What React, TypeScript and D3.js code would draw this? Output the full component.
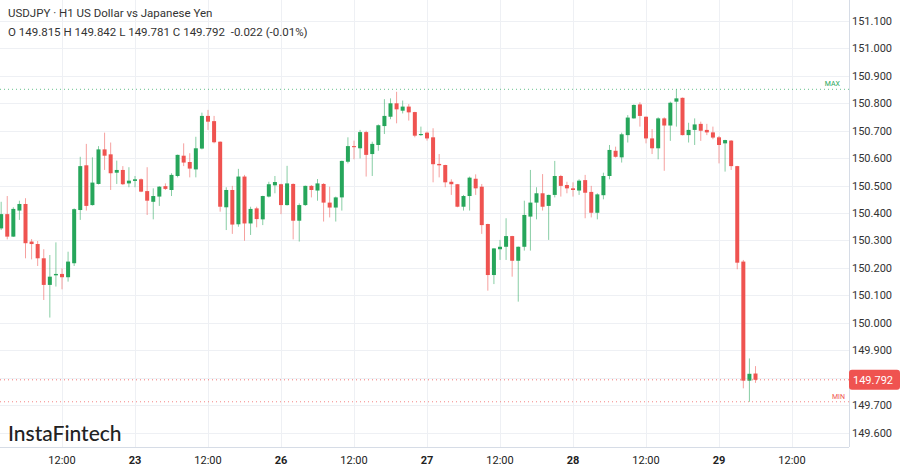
import React from "react";
import * as d3 from "d3";

// Bar index: 0 = Feb 22 12:00 (H1 bars), first visible bar at -10
const startIndex = -10;
const opens = [150.344,150.396,150.314,150.409,150.433,150.296,150.287,150.235,150.138,150.173,
150.178,150.166,150.217,150.411,150.574,150.429,150.506,150.632,150.614,150.547,
150.557,150.508,150.517,150.523,150.480,150.441,150.460,150.498,150.484,150.535,
150.609,150.586,150.559,150.635,150.754,150.735,150.660,150.421,150.484,150.359,
150.533,150.362,150.417,150.377,150.460,150.501,150.505,150.429,150.506,150.372,
150.429,150.499,150.482,150.506,150.438,150.420,150.457,150.587,150.644,150.636,
150.695,150.615,150.648,150.717,150.751,150.800,150.773,150.788,150.768,150.684,
150.693,150.676,150.579,150.575,150.514,150.505,150.423,150.462,150.525,150.496,
150.360,150.174,150.268,150.277,150.316,150.226,150.277,150.387,150.438,150.472,
150.426,150.466,150.535,150.502,150.490,150.482,150.520,150.477,150.401,150.465,
150.535,150.627,150.603,150.684,150.745,150.796,150.751,150.672,150.636,150.745,
150.719,150.806,150.820,150.684,150.703,150.725,150.703,150.694,150.676,150.654,
150.664,150.571,150.223,149.789,149.815];
const highs = [150.441,150.462,150.421,150.445,150.454,150.305,150.298,150.268,150.247,150.293,
150.198,150.259,150.417,150.605,150.652,150.603,150.644,150.693,150.657,150.591,
150.571,150.567,150.535,150.526,150.567,150.490,150.498,150.508,150.545,150.613,
150.654,150.618,150.678,150.766,150.776,150.754,150.661,150.494,150.499,150.561,
150.539,150.423,150.423,150.463,150.514,150.535,150.507,150.572,150.508,150.435,
150.500,150.502,150.524,150.509,150.496,150.460,150.591,150.676,150.664,150.703,
150.700,150.660,150.723,150.815,150.818,150.842,150.810,150.797,150.769,150.715,
150.697,150.709,150.615,150.576,150.523,150.506,150.466,150.533,150.541,150.506,
150.361,150.272,150.302,150.381,150.317,150.278,150.445,150.557,150.494,150.542,
150.467,150.590,150.539,150.514,150.512,150.523,150.539,150.499,150.472,150.547,
150.648,150.642,150.693,150.757,150.796,150.804,150.752,150.706,150.749,150.749,
150.806,150.851,150.821,150.729,150.745,150.733,150.725,150.715,150.681,150.667,
150.666,150.572,150.229,149.870,149.842];
const lows = [150.338,150.304,150.313,150.375,150.235,150.231,150.207,150.083,150.019,150.132,
150.122,150.150,150.207,150.375,150.409,150.427,150.504,150.557,150.484,150.506,
150.502,150.494,150.494,150.476,150.393,150.377,150.426,150.484,150.462,150.530,
150.571,150.530,150.530,150.632,150.703,150.654,150.405,150.338,150.324,150.350,
150.299,150.320,150.348,150.356,150.457,150.472,150.396,150.427,150.304,150.296,
150.426,150.457,150.445,150.369,150.384,150.369,150.409,150.581,150.596,150.599,
150.533,150.535,150.627,150.688,150.742,150.727,150.763,150.737,150.676,150.681,
150.664,150.512,150.530,150.494,150.466,150.421,150.409,150.409,150.466,150.324,
150.117,150.141,150.229,150.229,150.168,150.077,150.263,150.263,150.377,150.409,
150.302,150.457,150.460,150.472,150.460,150.466,150.381,150.384,150.377,150.450,
150.523,150.602,150.584,150.657,150.744,150.715,150.654,150.615,150.596,150.554,
150.663,150.715,150.683,150.657,150.648,150.663,150.684,150.669,150.581,150.551,
150.557,150.195,149.761,149.712,149.781];
const closes = [150.396,150.314,150.415,150.433,150.290,150.287,150.235,150.138,150.168,150.178,
150.166,150.223,150.414,150.571,150.426,150.511,150.632,150.609,150.545,150.557,
150.505,150.518,150.523,150.478,150.445,150.462,150.496,150.488,150.539,150.612,
150.584,150.562,150.636,150.754,150.733,150.658,150.423,150.484,150.358,150.533,
150.362,150.415,150.378,150.462,150.505,150.513,150.429,150.508,150.372,150.429,
150.499,150.484,150.508,150.438,150.420,150.457,150.590,150.644,150.640,150.695,
150.612,150.652,150.720,150.754,150.800,150.778,150.788,150.767,150.682,150.688,
150.672,150.578,150.574,150.512,150.505,150.423,150.462,150.529,150.490,150.356,
150.174,150.271,150.277,150.316,150.226,150.277,150.393,150.438,150.472,150.423,
150.466,150.535,150.499,150.490,150.484,150.518,150.474,150.401,150.468,150.535,
150.630,150.605,150.687,150.748,150.794,150.754,150.672,150.636,150.745,150.719,
150.802,150.818,150.684,150.703,150.723,150.700,150.694,150.675,150.648,150.666,
150.571,150.219,149.789,149.814,149.792];

const timeTickIndex = [0, 12, 24, 36, 48, 60, 72, 84, 96, 108, 120];
const timeTickLabels = ["12:00", "23", "12:00", "26", "12:00", "27", "12:00", "28", "12:00", "29", "12:00"];
const priceTicks = [149.6,149.7,149.8,149.9,150.0,150.1,150.2,150.3,150.4,150.5,150.6,150.7,150.8,150.9,151.0,151.1];

const headerTitle = "USDJPY · H1 US Dollar vs Japanese Yen";
const lastPrice = 149.792;

const W = 900, H = 468;
const plotRight = 849, plotBottom = 447;
const GREEN = "#26a65b";
const RED = "#ef5350";
const FONT = "Roboto, 'Liberation Sans', sans-serif";

export default function App() {
  const x = d3.scaleLinear().domain([0, 120]).range([62, 792]);
  const y = d3.scaleLinear().domain([149.6, 151.1]).range([432.5, 21]);
  const f3 = (v: number) => v.toFixed(3);

  const bars = opens.map((o, k) => ({ i: startIndex + k, o, h: highs[k], l: lows[k], c: closes[k] }));
  const maxHigh = d3.max(highs) as number;
  const minLow = d3.min(lows) as number;
  const n = opens.length - 1;
  const o = opens[n], hh = highs[n], ll = lows[n], cc = closes[n];
  const prevClose = closes[n - 1];
  const chg = cc - prevClose;
  const ohlcText = `O ${f3(o)} H ${f3(hh)} L ${f3(ll)} C ${f3(cc)}  ${f3(chg)} (${((chg / prevClose) * 100).toFixed(2)}%)`;
  const bw = 4;
  const lastY = y(lastPrice);

  return (
    <div style={{ position: "fixed", left: 0, top: 0, width: W, height: H, background: "#fff" }}>
      <svg width={W} height={H} style={{ display: "block", fontFamily: FONT }}>
        <rect x={0} y={0} width={W} height={H} fill="#fff" />
        <defs>
          <clipPath id="plot">
            <rect x={0} y={0} width={plotRight} height={plotBottom} />
          </clipPath>
        </defs>
        {/* grid */}
        {priceTicks.map((p) => (
          <line key={"h" + p} x1={0} x2={plotRight} y1={Math.round(y(p)) + 0.5} y2={Math.round(y(p)) + 0.5} stroke="#eef0f4" strokeWidth={1} />
        ))}
        {timeTickIndex.map((t) => (
          <line key={"v" + t} x1={Math.round(x(t)) + 0.5} x2={Math.round(x(t)) + 0.5} y1={0} y2={plotBottom} stroke="#eef0f4" strokeWidth={1} />
        ))}
        {/* candles */}
        <g clipPath="url(#plot)">
          {bars.map((b) => {
            const up = b.c >= b.o;
            const col = up ? GREEN : RED;
            const cx = x(b.i);
            const top = y(Math.max(b.o, b.c));
            const bot = y(Math.min(b.o, b.c));
            return (
              <g key={b.i}>
                <line x1={cx} x2={cx} y1={y(b.h)} y2={y(b.l)} stroke={col} strokeOpacity={0.55} strokeWidth={1} />
                <rect x={cx - bw / 2} y={top} width={bw} height={Math.max(1, bot - top)} fill={col} />
              </g>
            );
          })}
        </g>
        {/* max / min / last lines */}
        <line x1={0} x2={plotRight} y1={y(maxHigh)} y2={y(maxHigh)} stroke={GREEN} strokeOpacity={0.7} strokeWidth={1} strokeDasharray="1 3" />
        <text x={840} y={y(maxHigh) - 3} fontSize={7} fill={GREEN} textAnchor="end">MAX</text>
        <line x1={0} x2={plotRight} y1={y(minLow)} y2={y(minLow)} stroke={RED} strokeOpacity={0.7} strokeWidth={1} strokeDasharray="1 3" />
        <text x={845} y={y(minLow) - 3} fontSize={7} fill={RED} textAnchor="end">MIN</text>
        <line x1={0} x2={plotRight} y1={lastY} y2={lastY} stroke={RED} strokeOpacity={0.8} strokeWidth={1} strokeDasharray="1 3" />
        {/* axes borders */}
        <line x1={plotRight + 0.5} x2={plotRight + 0.5} y1={0} y2={plotBottom} stroke="#d6dce6" />
        <line x1={0} x2={plotRight} y1={plotBottom + 0.5} y2={plotBottom + 0.5} stroke="#d6dce6" />
        {/* price labels */}
        {priceTicks.filter((p) => Math.abs(y(p) - lastY) > 14).map((p) => (
          <text key={"pl" + p} x={872} y={y(p) + 4} fontSize={11} fill="#333" textAnchor="middle">{f3(p)}</text>
        ))}
        <rect x={plotRight} y={lastY - 10} width={W - plotRight} height={20} rx={3} fill={RED} />
        <text x={873} y={lastY + 4} fontSize={11} fill="#fff" textAnchor="middle">{f3(lastPrice)}</text>
        {/* time labels */}
        {timeTickIndex.map((t, k) => (
          <text key={"tl" + t} x={x(t)} y={464} fontSize={11} fill="#222" textAnchor="middle" fontWeight={timeTickLabels[k].includes(":") ? 400 : 700}>{timeTickLabels[k]}</text>
        ))}
        {/* header */}
        <text x={8} y={17} fontSize={11.5} fill="#333">{headerTitle}</text>
        <text x={8} y={36} fontSize={11.5} fill="#333" style={{ whiteSpace: "pre" }}>{ohlcText}</text>
        {/* logo */}
        <text x={8} y={441} fontSize={21} fontWeight={500} fill="#222" fontFamily="Lato, 'Open Sans', sans-serif">InstaFintech</text>
      </svg>
    </div>
  );
}
